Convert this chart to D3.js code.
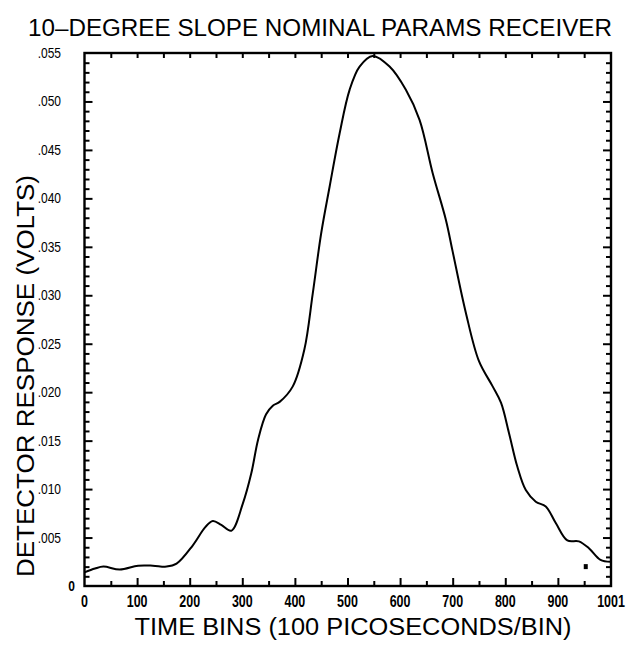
<!DOCTYPE html>
<html>
<head>
<meta charset="utf-8">
<script src="https://cdn.jsdelivr.net/npm/d3@7/dist/d3.min.js"></script>
<style>
    body { margin: 0; background: #fff; }
    svg { display: block; }
    .frame .domain { display: none; }
    .frame line { stroke: #000; stroke-width: 2; }
</style>
</head>
<body>
<div id="chart"></div>
<script>
// Curve (time bin, volts)
const timeBins = [0, 20, 36, 67, 102, 130, 156, 175, 206, 230, 244, 260, 279, 301, 317, 330, 345, 358,
    371, 396, 418, 434, 450, 466, 485, 504, 523, 548, 580, 611, 637, 662, 687, 700, 725, 750,
    776, 792, 807, 823, 839, 858, 877, 896, 918, 940, 959, 981, 1000]
const response = [.0014, .0018, .0020, .0017, .0021, .0021, .0020, .0023, .0042, .0061, .0067, .0063, .0057,
    .0085, .0116, .0151, .0177, .0186, .0190, .0206, .0244, .0302, .0364, .0412, .0467, .0512, .0536,
    .0547, .0536, .0512, .0481, .0426, .0378, .0345, .0282, .0232, .0206, .0189, .0158, .0123, .0099,
    .0087, .0082, .0065, .0047, .0046, .0039, .0027, .0025]

// lone dot near the bottom right corner
const strayBins = [953]
const strayValues = [.0020]

const xTickValues = [0, 100, 200, 300, 400, 500, 600, 700, 800, 900, 1001]
const xTickLabels = ["0", "100", "200", "300", "400", "500", "600", "700", "800", "900", "1001"]
const yTickValues = [0, .005, .010, .015, .020, .025, .030, .035, .040, .045, .050, .055]
const yTickLabels = ["0", ".005", ".010", ".015", ".020", ".025", ".030", ".035", ".040", ".045", ".050", ".055"]

const chartTitle = "10\u2013DEGREE SLOPE NOMINAL PARAMS RECEIVER"
const xTitle = "TIME BINS (100 PICOSECONDS/BIN)"
const yTitle = "DETECTOR RESPONSE (VOLTS)"

const width = 627
const height = 645
const box = { left: 84.5, right: 611, top: 53, bottom: 586 }

const x = d3.scaleLinear().domain([0, 1001]).range([box.left, box.right])
const y = d3.scaleLinear().domain([0, .055]).range([box.bottom, box.top])

const svg = d3.select("#chart").append("svg")
    .attr("width", width)
    .attr("height", height)
    .attr("viewBox", `0 0 ${width} ${height}`)

const ink = "#000"
const labelFont = "'Liberation Sans', Arial, Helvetica, sans-serif"

// Frame
svg.append("rect")
    .attr("x", box.left).attr("y", box.top)
    .attr("width", box.right - box.left).attr("height", box.bottom - box.top)
    .attr("fill", "none").attr("stroke", ink).attr("stroke-width", 2.4)

// Inward ticks on all four sides, drawn with d3 axes (labels are added separately)
const every50 = d3.range(50, 1000, 100)
const every100 = d3.range(100, 1000, 100)
const yMinor = d3.range(1, 55).filter(i => i % 5 !== 0).map(i => i / 1000)
const yMajor = d3.range(5, 55, 5).map(i => i / 1000)

function tickAxis(axis, values, size, tx, ty) {
    svg.append("g")
        .attr("class", "frame")
        .attr("transform", `translate(${tx},${ty})`)
        .call(axis.tickValues(values).tickSize(size).tickFormat(""))
}

tickAxis(d3.axisTop(x), every50, 5, 0, box.bottom)
tickAxis(d3.axisTop(x), every100, 8, 0, box.bottom)
tickAxis(d3.axisBottom(x), d3.range(50, 1000, 50), 5, 0, box.top)
tickAxis(d3.axisRight(y), yMinor, 5, box.left, 0)
tickAxis(d3.axisRight(y), yMajor, 8, box.left, 0)
tickAxis(d3.axisLeft(y), yMinor, 5, box.right, 0)
tickAxis(d3.axisLeft(y), yMajor, 8, box.right, 0)

// Tick labels (squeezed sideways like the old plotter type)
svg.append("g").selectAll("text").data(xTickValues).join("text")
    .attr("transform", d => `translate(${x(d)},${box.bottom + 21}) scale(0.78,1)`)
    .attr("text-anchor", "middle")
    .attr("font-family", labelFont)
    .attr("font-weight", "bold")
    .attr("font-size", 16)
    .attr("fill", ink)
    .text((d, i) => xTickLabels[i])

svg.append("g").selectAll("text").data(yTickValues).join("text")
    .attr("transform", (d, i) => i === 0
        ? `translate(75,${box.bottom + 5}) scale(0.8,1)`
        : `translate(61,${y(d) + 5}) scale(0.8,1)`)
    .attr("text-anchor", "end")
    .attr("font-family", labelFont)
    .attr("font-weight", (d, i) => i === 0 ? "bold" : "normal")
    .attr("font-size", 15)
    .attr("fill", ink)
    .text((d, i) => yTickLabels[i])

// The curve
const points = timeBins.map((t, i) => [t, response[i]])
svg.append("path")
    .datum(points)
    .attr("fill", "none")
    .attr("stroke", ink)
    .attr("stroke-width", 2)
    .attr("d", d3.line().x(d => x(d[0])).y(d => y(d[1])).curve(d3.curveCatmullRom.alpha(0.5)))

svg.append("g").selectAll("rect").data(strayBins).join("rect")
    .attr("x", d => x(d) - 2)
    .attr("y", (d, i) => y(strayValues[i]) - 2.5)
    .attr("width", 4).attr("height", 5)
    .attr("fill", ink)

// Titles
svg.append("text")
    .attr("x", 320).attr("y", 36)
    .attr("text-anchor", "middle")
    .attr("font-family", labelFont).attr("font-size", 23)
    .attr("textLength", 584).attr("lengthAdjust", "spacingAndGlyphs")
    .attr("fill", ink)
    .text(chartTitle)

svg.append("text")
    .attr("x", 353).attr("y", 635)
    .attr("text-anchor", "middle")
    .attr("font-family", labelFont).attr("font-size", 23)
    .attr("textLength", 437).attr("lengthAdjust", "spacingAndGlyphs")
    .attr("fill", ink)
    .text(xTitle)

svg.append("text")
    .attr("transform", `translate(34,376) rotate(-90)`)
    .attr("text-anchor", "middle")
    .attr("font-family", labelFont).attr("font-size", 23)
    .attr("textLength", 402).attr("lengthAdjust", "spacingAndGlyphs")
    .attr("fill", ink)
    .text(yTitle)
</script>
</body>
</html>
